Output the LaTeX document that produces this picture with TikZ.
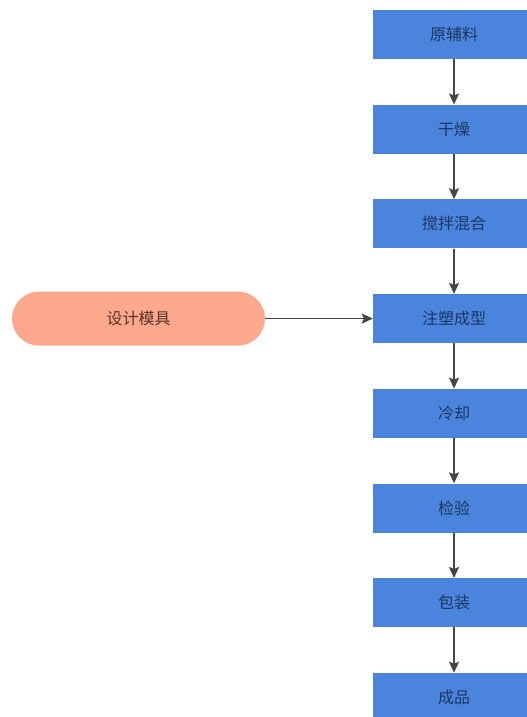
\documentclass[tikz,border=0pt]{standalone}
\usepackage{fontspec}
\newfontfamily\cjk{Noto Sans CJK SC}
\usetikzlibrary{arrows.meta}
\definecolor{boxblue}{HTML}{4A84DC}
\definecolor{boxtext}{HTML}{1C3760}
\definecolor{pillfill}{HTML}{FBA88C}
\definecolor{pilltext}{HTML}{5A3428}
\definecolor{arrowgray}{HTML}{454545}
\begin{document}
\begin{tikzpicture}[x=1pt,y=-1pt,
  stepbox/.style={rectangle, fill=boxblue, draw=none, minimum width=162pt, minimum height=49pt, inner sep=0pt, font=\cjk\fontsize{16pt}{18pt}\selectfont, text=boxtext},
  pill/.style={rectangle, rounded corners=27pt, fill=pillfill, draw=none, minimum width=253pt, minimum height=54pt, inner sep=0pt, font=\cjk\fontsize{16pt}{18pt}\selectfont, text=pilltext},
  conn/.style={draw=arrowgray, line width=1.6pt, -{Stealth[length=11pt,width=10pt,inset=2pt]}}]
\useasboundingbox (0,0) rectangle (527,717);
\clip (0,0) rectangle (527,717);
\fill[white] (0,0) rectangle (527,717);
\node[stepbox] (s0) at (454,34.5) {原辅料};
\node[stepbox] (s1) at (454,129.2) {干燥};
\node[stepbox] (s2) at (454,223.9) {搅拌混合};
\node[stepbox] (s3) at (454,318.6) {注塑成型};
\node[stepbox] (s4) at (454,413.3) {冷却};
\node[stepbox] (s5) at (454,508.0) {检验};
\node[stepbox] (s6) at (454,602.7) {包装};
\node[stepbox] (s7) at (454,697.4) {成品};
\node[pill] (p) at (138.5,318.6) {设计模具};
\draw[conn] (s0) -- (s1);
\draw[conn] (s1) -- (s2);
\draw[conn] (s2) -- (s3);
\draw[conn] (s3) -- (s4);
\draw[conn] (s4) -- (s5);
\draw[conn] (s5) -- (s6);
\draw[conn] (s6) -- (s7);
\draw[conn] (p) -- (s3);
\end{tikzpicture}
\end{document}
